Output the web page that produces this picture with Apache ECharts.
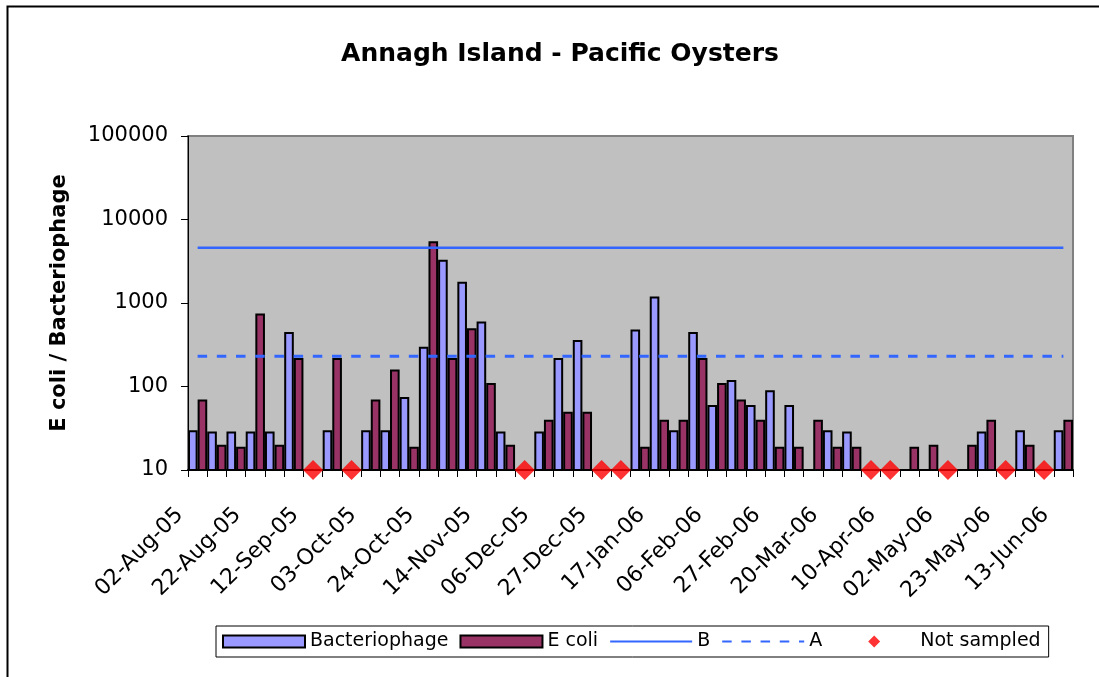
<!DOCTYPE html>
<html>
<head>
<meta charset="utf-8">
<script src="https://cdn.jsdelivr.net/npm/echarts@6/dist/echarts.min.js"></script>
<style>html,body{margin:0;padding:0;background:#fff;}#c{width:1099px;height:677px;}</style>
</head>
<body>
<div id="c"></div>
<script>
const categories = ['02-Aug-05','08-Aug-05','15-Aug-05','22-Aug-05','29-Aug-05','05-Sep-05','12-Sep-05','19-Sep-05','26-Sep-05','03-Oct-05','10-Oct-05','17-Oct-05','24-Oct-05','31-Oct-05','07-Nov-05','14-Nov-05','21-Nov-05','28-Nov-05','06-Dec-05','13-Dec-05','20-Dec-05','27-Dec-05','03-Jan-06','10-Jan-06','17-Jan-06','24-Jan-06','31-Jan-06','06-Feb-06','13-Feb-06','20-Feb-06','27-Feb-06','06-Mar-06','13-Mar-06','20-Mar-06','27-Mar-06','03-Apr-06','10-Apr-06','18-Apr-06','25-Apr-06','02-May-06','09-May-06','16-May-06','23-May-06','30-May-06','06-Jun-06','13-Jun-06'];
const bacteriophage = [30,29,29,29,29,450,null,30,null,30,30,75,300,3300,1800,600,29,null,29,220,360,null,null,480,1200,30,450,60,120,60,90,60,null,30,29,null,null,null,null,null,null,29,null,30,null,30];
const ecoli = [70,20,19,750,20,220,null,220,null,70,160,19,5500,220,500,110,20,null,40,50,50,null,null,19,40,40,220,110,70,40,19,19,40,19,19,null,null,19,20,null,20,40,null,20,null,40];
const limitB = 4600;
const limitA = 230;
const notSampledIdx = [6,8,17,21,22,35,36,39,42,44];
const notSampledValue = 10;
const yTicks = [10,100,1000,10000,100000];

const FONT = 'DejaVu Sans';
const toData = a => a.map(v => v == null ? '-' : v);
const nsData = categories.map((c, i) => notSampledIdx.includes(i) ? notSampledValue : '-');
const hiddenSymbol = { color: 'rgba(0,0,0,0)', borderColor: 'rgba(0,0,0,0)', borderWidth: 0, opacity: 0 };

const chart = echarts.init(document.getElementById('c'));
chart.setOption({
  animation: false,
  backgroundColor: '#fff',
  textStyle: { fontFamily: FONT, color: '#000' },
  graphic: [{
    type: 'rect', left: 5, top: 4, silent: true, z: 100,
    shape: { x: 0, y: 0, width: 1200, height: 800 },
    style: { fill: null, stroke: '#000', lineWidth: 2 }
  }],
  title: {
    text: 'Annagh Island - Pacific Oysters',
    left: 555, top: 37, textAlign: 'center',
    textStyle: { fontFamily: FONT, fontWeight: 'bold', fontSize: 25, color: '#000' }
  },
  legend: {
    left: 216, top: 626,
    padding: [6, 8, 6, 6],
    itemWidth: 82, itemHeight: 12, itemGap: 11,
    borderColor: '#000', borderWidth: 1,
    textStyle: { fontFamily: FONT, fontSize: 19, color: '#000' },
    data: [
      { name: 'Bacteriophage', icon: 'rect' },
      { name: 'E coli', icon: 'rect' },
      { name: 'B', itemStyle: hiddenSymbol },
      { name: 'A', itemStyle: hiddenSymbol },
      { name: 'Not sampled', icon: 'path://M0,6L0.01,6M41,0L47,6L41,12L35,6ZM82,6L81.99,6' }
    ]
  },
  grid: {
    left: 188, right: 26, top: 136, bottom: 207,
    show: true, backgroundColor: '#C0C0C0', borderColor: '#808080', borderWidth: 2
  },
  xAxis: {
    type: 'category',
    data: categories,
    boundaryGap: true,
    axisLine: { lineStyle: { color: '#000', width: 2 } },
    axisTick: { show: true, interval: 0, length: 7, lineStyle: { color: '#000' } },
    axisLabel: {
      interval: 2, rotate: 45, margin: 24, fontSize: 22, fontFamily: FONT, color: '#000',
      padding: [0, 25, 0, 0]
    },
    splitLine: { show: false }
  },
  yAxis: {
    type: 'log', logBase: 10, min: yTicks[0], max: yTicks[yTicks.length - 1],
    name: 'E coli / Bacteriophage', nameLocation: 'middle', nameGap: 118, nameRotate: 90,
    nameTextStyle: { fontFamily: FONT, fontWeight: 'bold', fontSize: 21, color: '#000' },
    axisLine: { show: true, lineStyle: { color: '#000', width: 1 } },
    axisTick: { show: true, length: 7, lineStyle: { color: '#000' } },
    axisLabel: { margin: 20, fontSize: 21, fontFamily: FONT, color: '#000', formatter: v => String(v) },
    splitLine: { show: false },
    minorTick: { show: false }
  },
  series: [
    {
      name: 'Bacteriophage', type: 'bar', data: toData(bacteriophage),
      barGap: '0%', barCategoryGap: '0%',
      itemStyle: { color: '#9999FF', borderColor: '#000', borderWidth: 2 }
    },
    {
      name: 'E coli', type: 'bar', data: toData(ecoli),
      barGap: '0%', barCategoryGap: '0%',
      itemStyle: { color: '#993366', borderColor: '#000', borderWidth: 2 }
    },
    {
      name: 'B', type: 'line', data: categories.map(() => limitB),
      symbol: 'none', showSymbol: false,
      lineStyle: { color: '#3366FF', width: 2.5 },
      itemStyle: { color: '#3366FF' }
    },
    {
      name: 'A', type: 'line', data: categories.map(() => limitA),
      symbol: 'none', showSymbol: false,
      lineStyle: { color: '#3366FF', width: 3, type: [9.5, 9.7] },
      itemStyle: { color: '#3366FF' }
    },
    {
      name: 'Not sampled', type: 'scatter', data: nsData,
      symbol: 'diamond', symbolSize: 20, clip: false, z: 10,
      itemStyle: { color: '#FF0000' }
    }
  ]
});
</script>
</body>
</html>
